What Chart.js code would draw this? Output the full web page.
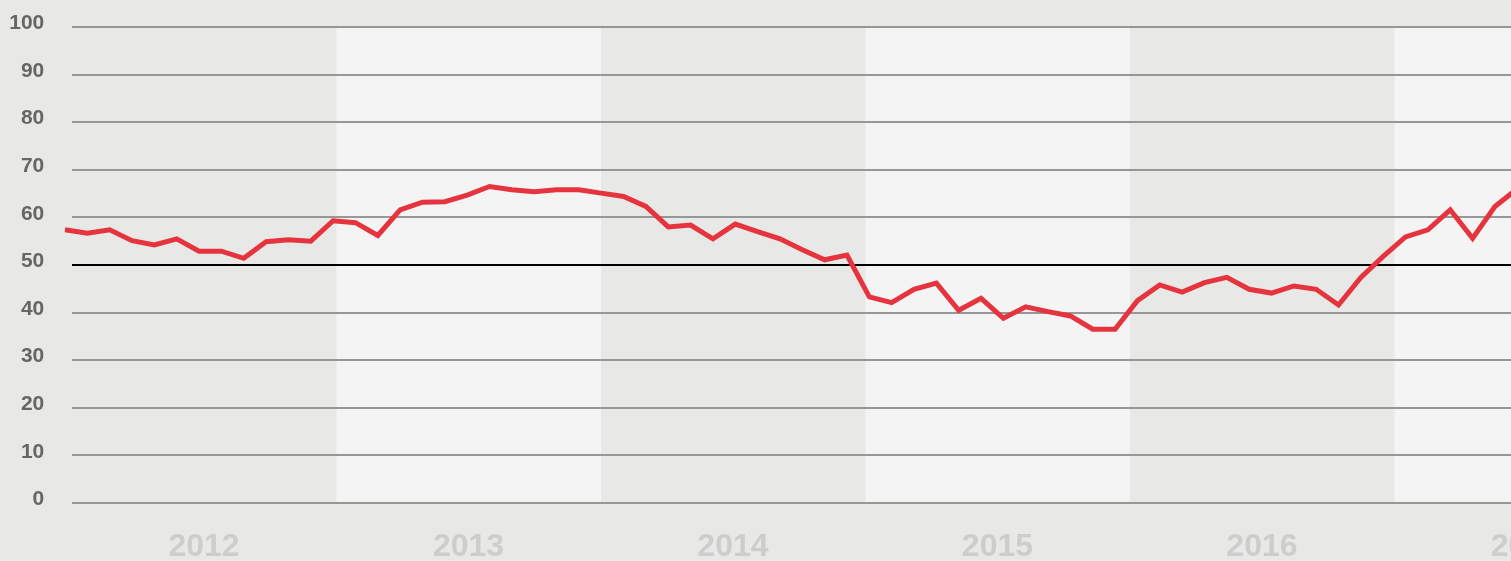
<!DOCTYPE html>
<html>
<head>
<meta charset="utf-8">
<script src="https://cdn.jsdelivr.net/npm/chart.js@4/dist/chart.umd.min.js"></script>
<style>
  html, body { margin: 0; padding: 0; background: #e8e8e6; }
  canvas { display: block; }
</style>
</head>
<body>
<canvas id="c" width="1511" height="561"></canvas>
<script>
// ---- data ----
const years = ['2012', '2013', '2014', '2015', '2016', '2017'];
const values = [
  57.4, 56.7, 57.4, 55.1, 54.2, 55.5, 52.9, 52.9, 51.4, 54.9, 55.3, 55.0,
  59.3, 58.9, 56.2, 61.6, 63.2, 63.3, 64.7, 66.5, 65.8, 65.4, 65.8, 65.8,
  65.1, 64.4, 62.3, 58.0, 58.4, 55.5, 58.6, 57.0, 55.5, 53.2, 51.1, 52.1,
  43.3, 42.1, 44.9, 46.2, 40.5, 43.0, 38.8, 41.2, 40.2, 39.3, 36.5, 36.5,
  42.5, 45.8, 44.3, 46.3, 47.4, 44.9, 44.1, 45.6, 44.9, 41.6, 47.4, 51.8,
  55.9, 57.4, 61.6, 55.6, 62.3, 66.0
];
const yTicks = [0, 10, 20, 30, 40, 50, 60, 70, 80, 90, 100];
const referenceLine = 50;

// ---- styles ----
const BG = '#e8e8e6';
const BAND_LIGHT = '#f4f4f4';
const LINE_RED = '#e6343f';

const bandPlugin = {
  id: 'bands',
  beforeDraw(chart) {
    const { ctx, chartArea } = chart;
    const ys = chart.scales.xYear;
    ctx.save();
    ctx.fillStyle = BG;
    ctx.fillRect(0, 0, chart.width, chart.height);
    ctx.beginPath();
    ctx.rect(chartArea.left, chartArea.top, chartArea.right - chartArea.left, chartArea.bottom - chartArea.top);
    ctx.clip();
    ctx.fillStyle = BAND_LIGHT;
    years.forEach((y, i) => {
      if (i % 2 === 1) {
        const x0 = ys.getPixelForValue(i * 12);
        const x1 = ys.getPixelForValue((i + 1) * 12);
        ctx.fillRect(x0, chartArea.top, x1 - x0, chartArea.bottom - chartArea.top);
      }
    });
    ctx.restore();
  }
};

new Chart(document.getElementById('c'), {
  type: 'line',
  data: {
    datasets: [{
      data: values.map((v, i) => ({ x: i, y: v })),
      borderColor: LINE_RED,
      borderWidth: 5,
      pointRadius: 0,
      tension: 0,
      fill: false,
      clip: false,
      borderJoinStyle: 'miter',
      borderCapStyle: 'butt'
    }]
  },
  options: {
    responsive: false,
    animation: false,
    devicePixelRatio: 1,
    layout: { padding: { top: 0, left: 0, right: 0, bottom: 0 } },
    plugins: { legend: { display: false }, tooltip: { enabled: false } },
    scales: {
      x: {
        type: 'linear',
        display: false,
        min: 0.313,
        max: 64.72
      },
      xYear: {
        type: 'linear',
        position: 'bottom',
        min: 0,
        max: 65.29,
        afterBuildTicks(scale) {
          scale.ticks = years.map((y, i) => ({ value: i * 12 }));
        },
        afterFit(scale) { scale.height = 58; },
        grid: { display: false, drawTicks: false },
        border: { display: false },
        ticks: {
          autoSkip: false,
          maxRotation: 0,
          padding: 25,
          labelOffset: 132,
          color: '#cdcdcd',
          font: { family: 'Liberation Sans, Arial, sans-serif', size: 32, weight: 'bold' },
          callback: (v, i) => years[i]
        }
      },
      y: {
        type: 'linear',
        position: 'left',
        min: 0,
        max: 100,
        afterBuildTicks(scale) {
          scale.ticks = yTicks.map(v => ({ value: v }));
        },
        afterFit(scale) { scale.width = 72; scale.paddingTop = 27; },
        grid: {
          drawTicks: false,
          lineWidth: 2,
          color: ctx => (ctx.tick && ctx.tick.value === referenceLine) ? '#000000' : '#979797'
        },
        border: { display: false },
        ticks: {
          padding: 27.7,
          labelOffset: -3.5,
          color: '#666666',
          font: { family: 'Liberation Sans, Arial, sans-serif', size: 21, weight: 'bold' }
        }
      }
    }
  },
  plugins: [bandPlugin]
});
</script>
</body>
</html>
